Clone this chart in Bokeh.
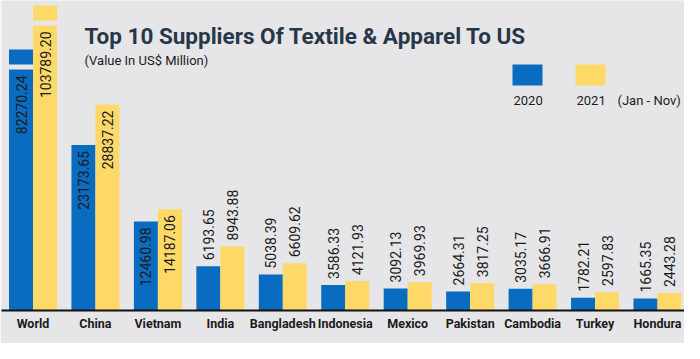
import math
from bokeh.plotting import figure
from bokeh.models import Range1d, FixedTicker, ColumnDataSource
from bokeh.core.properties import value
from bokeh.embed import file_html
from bokeh.resources import INLINE

# ---------------- data ----------------
countries = ["World", "China", "Vietnam", "India", "Bangladesh", "Indonesia",
             "Mexico", "Pakistan", "Cambodia", "Turkey", "Hondura"]
v2020 = [82270.24, 23173.65, 12460.98, 6193.65, 5038.39, 3586.33,
         3092.13, 2664.31, 3035.17, 1782.21, 1665.35]
v2021 = [103789.20, 28837.22, 14187.06, 8943.88, 6609.62, 4121.93,
         3969.93, 3817.25, 3666.91, 2597.83, 2443.28]
series_names = ["2020", "2021"]
TITLE = "Top 10 Suppliers Of Textile & Apparel To US"
SUBTITLE = "(Value In US$ Million)"
PERIOD_NOTE = "(Jan - Nov)"

# ---------------- style / layout ----------------
BG = "#e6e6e8"
BLUE = "#0a6cc0"
YELLOW = "#fed968"
TITLE_COLOR = "#263848"
TEXT_COLOR = "#1b1b1b"
FONT = "Roboto"

W, H = 684, 343
B_LEFT, B_RIGHT, B_TOP, B_BOTTOM = 1, 0, 0, 33
FRAME_W = W - B_LEFT - B_RIGHT
FRAME_H = H - B_TOP - B_BOTTOM
PX_PER_GROUP = 62.45
UNITS_PER_PX = 140.0
X0 = -31.5 / PX_PER_GROUP
BAR_W = 24 / PX_PER_GROUP

# axis break for bars that exceed the visible range (World)
BREAK_MIN = 40000
BREAK_OFFSET = 12990
BREAK_SCALE = 0.2863
GAP_TOP_PX = 15
GAP_PX = 5
INSIDE_MIN = 10000

# reference-pixel helpers (page margin 8px)
def dx(ref_x):
    return X0 + (ref_x - 8 - B_LEFT) / PX_PER_GROUP

def dy(ref_y):
    return (8 + B_TOP + FRAME_H - ref_y) * UNITS_PER_PX

p = figure(width=W, height=H, output_backend="svg", toolbar_location=None,
           x_range=Range1d(X0, X0 + FRAME_W / PX_PER_GROUP),
           y_range=Range1d(0, FRAME_H * UNITS_PER_PX),
           y_axis_location=None,
           min_border_left=B_LEFT, min_border_right=B_RIGHT,
           min_border_top=B_TOP, min_border_bottom=B_BOTTOM)
p.background_fill_color = BG
p.border_fill_color = BG
p.outline_line_color = None
p.xgrid.visible = False
p.ygrid.visible = False

# ---------------- bars ----------------
def build(vals, offset_sign):
    xs, lo_b, lo_t, up_b, up_t = [], [], [], [], []
    lx, ly, lt, la = [], [], [], []
    for i, v in enumerate(vals):
        xc = i + offset_sign * BAR_W / 2
        if v > BREAK_MIN:
            top = BREAK_OFFSET + BREAK_SCALE * v
            lower_top = top - (GAP_TOP_PX + GAP_PX) * UNITS_PER_PX
            xs.append(xc); lo_b.append(0); lo_t.append(lower_top)
            up_b.append(top - GAP_TOP_PX * UNITS_PER_PX); up_t.append(top)
            label_ref = lower_top
        else:
            top = v
            xs.append(xc); lo_b.append(0); lo_t.append(top)
            up_b.append(top); up_t.append(top)
            label_ref = top
        if v > INSIDE_MIN:
            ly.append(label_ref - 6 * UNITS_PER_PX); la.append("right")
        else:
            ly.append(label_ref + 6 * UNITS_PER_PX); la.append("left")
        lx.append(xc); lt.append(f"{v:.2f}")
    bars = ColumnDataSource(dict(x=xs, bottom=lo_b, top=lo_t))
    caps = ColumnDataSource(dict(x=xs, bottom=up_b, top=up_t))
    labs = ColumnDataSource(dict(x=lx, y=ly, text=lt, align=la))
    return bars, caps, labs

for vals, sign, color in ((v2020, -1, BLUE), (v2021, 1, YELLOW)):
    bars, caps, labs = build(vals, sign)
    p.vbar(x="x", bottom="bottom", top="top", width=BAR_W, source=bars,
           fill_color=color, line_color=None)
    p.vbar(x="x", bottom="bottom", top="top", width=BAR_W, source=caps,
           fill_color=color, line_color=None)
    p.text(x="x", y="y", text="text", source=labs, angle=math.pi / 2,
           text_align="align", text_baseline="middle",
           text_font=value(FONT), text_font_size="14px", text_color=TEXT_COLOR)

# ---------------- axis ----------------
p.xaxis.ticker = FixedTicker(ticks=list(range(len(countries))))
p.xaxis.major_label_overrides = {i: c for i, c in enumerate(countries)}
p.xaxis.major_tick_line_color = None
p.xaxis.minor_tick_line_color = None
p.xaxis.major_tick_out = 0
p.xaxis.major_tick_in = 0
p.xaxis.axis_line_color = "#111111"
p.xaxis.axis_line_width = 2
p.xaxis.major_label_standoff = 5
p.xaxis.major_label_text_font = FONT
p.xaxis.major_label_text_font_style = "bold"
p.xaxis.major_label_text_font_size = "12.5px"
p.xaxis.major_label_text_color = TEXT_COLOR

# ---------------- titles (y = cap-height centre) ----------------
p.text(x=[dx(92)], y=[dy(43)], text=[TITLE], text_align="left",
       text_baseline="middle", text_font=value(FONT), text_font_style="bold",
       text_font_size="22.5px", text_color=TITLE_COLOR)
p.text(x=[dx(92)], y=[dy(68)], text=[SUBTITLE], text_align="left",
       text_baseline="middle", text_font=value(FONT),
       text_font_size="13px", text_color=TEXT_COLOR)

# ---------------- legend ----------------
p.quad(left=[dx(520), dx(583)], right=[dx(550), dx(613)],
       top=[dy(72), dy(72)], bottom=[dy(93), dy(93)],
       fill_color=[BLUE, YELLOW], line_color=None)
p.text(x=[dx(521), dx(584), dx(625)], y=[dy(108)] * 3,
       text=[series_names[0], series_names[1], PERIOD_NOTE],
       text_align="left", text_baseline="middle", text_font=value(FONT),
       text_font_size="13px", text_color=TEXT_COLOR)

open("out.html", "w").write(file_html(p, INLINE))
